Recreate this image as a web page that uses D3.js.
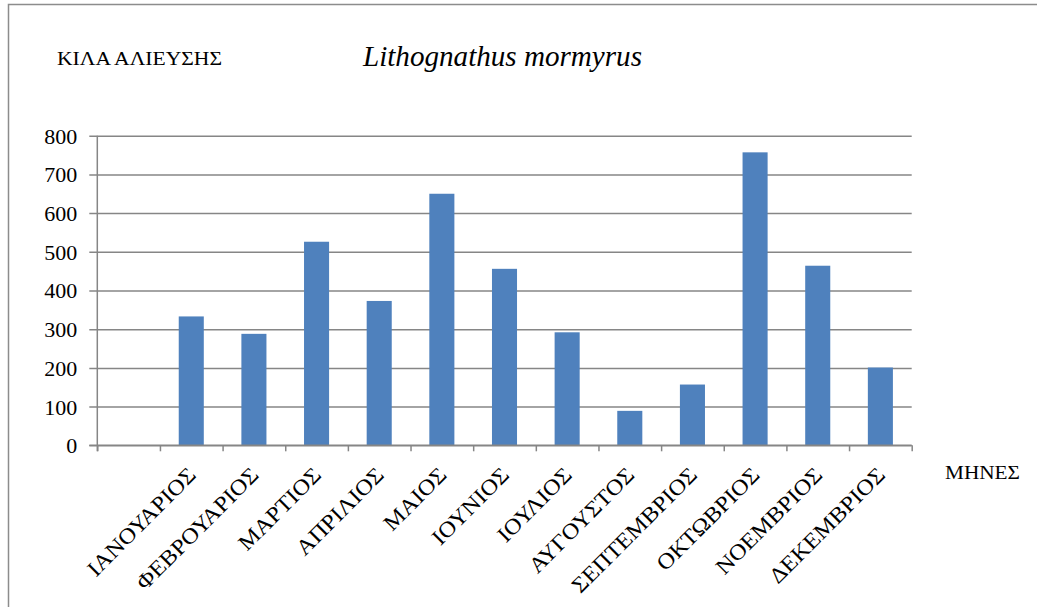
<!DOCTYPE html>
<html>
<head>
<meta charset="utf-8">
<script src="https://cdn.jsdelivr.net/npm/d3@7"></script>
<style>
  html, body { margin: 0; padding: 0; background: #fff; }
  svg { display: block; }
</style>
</head>
<body>
<svg id="chart" width="1037" height="607"></svg>
<script>
// Monthly catch (kg) of Lithognathus mormyrus; the first slot is an unnamed empty category
const months = ["", "ΙΑΝΟΥΑΡΙΟΣ", "ΦΕΒΡΟΥΑΡΙΟΣ", "ΜΑΡΤΙΟΣ", "ΑΠΡΙΛΙΟΣ", "ΜΑΙΟΣ", "ΙΟΥΝΙΟΣ",
                "ΙΟΥΛΙΟΣ", "ΑΥΓΟΥΣΤΟΣ", "ΣΕΠΤΕΜΒΡΙΟΣ", "ΟΚΤΩΒΡΙΟΣ", "ΝΟΕΜΒΡΙΟΣ", "ΔΕΚΕΜΒΡΙΟΣ"];
const catchKg = [null, 333, 288, 526, 373, 650, 456, 292, 89, 157, 757, 464, 201];
const yTicks = [0, 100, 200, 300, 400, 500, 600, 700, 800];
const titleText = "Lithognathus mormyrus";
const yAxisTitle = "ΚΙΛΑ ΑΛΙΕΥΣΗΣ";
const xAxisTitle = "ΜΗΝΕΣ";

const serif = "'Liberation Serif', 'Times New Roman', serif";
const svg = d3.select("#chart");
const gridColor = "#868686";
const barColor = "#4f81bd";

// outer chart frame (runs off the right and bottom edges)
svg.append("rect")
  .attr("x", 8.5).attr("y", 4.5)
  .attr("width", 1100).attr("height", 700)
  .attr("fill", "none").attr("stroke", "#8c8c8c").attr("stroke-width", 1.5);

const plot = { left: 97.3, right: 911.7, top: 135.7, bottom: 445.3 };

const x = d3.scaleBand()
  .domain(d3.range(months.length))
  .range([plot.left, plot.right])
  .paddingInner(0.6).paddingOuter(0.3);

const xSlot = d3.scaleLinear()
  .domain([0, months.length])
  .range([plot.left, plot.right]);

const y = d3.scaleLinear()
  .domain([0, 800])
  .range([plot.bottom, plot.top]);

// horizontal gridlines with left ticks
const yAxis = d3.axisLeft(y)
  .tickValues(yTicks)
  .tickSize(-(plot.right - plot.left))
  .tickPadding(20)
  .tickFormat(d3.format("d"));

const gy = svg.append("g")
  .attr("transform", `translate(${plot.left},0)`)
  .call(yAxis);
gy.select(".domain").remove();
gy.selectAll(".tick line")
  .attr("stroke", gridColor).attr("stroke-width", 1.5)
  .attr("x1", -8);
gy.selectAll(".tick text")
  .attr("font-size", 22)
  .style("font-family", serif)
  .attr("fill", "#000")
  .attr("dy", "0.34em");

// bars
svg.append("g").selectAll("rect")
  .data(catchKg.map((v, i) => ({ v, i })).filter(d => d.v != null))
  .join("rect")
  .attr("x", d => x(d.i))
  .attr("width", x.bandwidth())
  .attr("y", d => y(d.v))
  .attr("height", d => y(0) - y(d.v))
  .attr("fill", barColor);

// vertical axis line
svg.append("line")
  .attr("x1", plot.left).attr("x2", plot.left)
  .attr("y1", plot.top).attr("y2", plot.bottom + 6)
  .attr("stroke", gridColor).attr("stroke-width", 1.5);

// category axis with boundary ticks
const xAxis = d3.axisBottom(xSlot)
  .tickValues(d3.range(months.length + 1))
  .tickSize(6)
  .tickFormat("");
const gx = svg.append("g")
  .attr("transform", `translate(0,${plot.bottom})`)
  .call(xAxis);
gx.select(".domain")
  .attr("d", `M${plot.left - 8},0H${plot.right}`)
  .attr("stroke", gridColor).attr("stroke-width", 1.5);
gx.selectAll(".tick line").attr("stroke", gridColor).attr("stroke-width", 1.5);

// rotated month labels, slightly widened
const labels = svg.append("g").selectAll("text")
  .data(months.map((m, i) => ({ m, i })).filter(d => d.m !== ""))
  .join("text")
  .attr("transform", d => `translate(${x(d.i) + x.bandwidth() / 2 + 6},${plot.bottom + 31}) rotate(-45)`)
  .attr("text-anchor", "end")
  .attr("font-size", 22)
  .style("font-family", serif)
  .attr("fill", "#000")
  .text(d => d.m);
labels.each(function () {
  const w = this.getComputedTextLength();
  d3.select(this).attr("textLength", w * 1.1).attr("lengthAdjust", "spacingAndGlyphs");
});

// titles
svg.append("text")
  .attr("x", 57).attr("y", 65)
  .attr("font-size", 18.5)
  .style("font-family", serif)
  .attr("textLength", 165).attr("lengthAdjust", "spacingAndGlyphs")
  .text(yAxisTitle);

svg.append("text")
  .attr("x", 363).attr("y", 66)
  .attr("font-size", 29)
  .attr("font-style", "italic")
  .style("font-family", serif)
  .attr("textLength", 279).attr("lengthAdjust", "spacingAndGlyphs")
  .text(titleText);

svg.append("text")
  .attr("x", 945).attr("y", 479)
  .attr("font-size", 18.5)
  .style("font-family", serif)
  .attr("textLength", 75).attr("lengthAdjust", "spacingAndGlyphs")
  .text(xAxisTitle);
</script>
</body>
</html>
